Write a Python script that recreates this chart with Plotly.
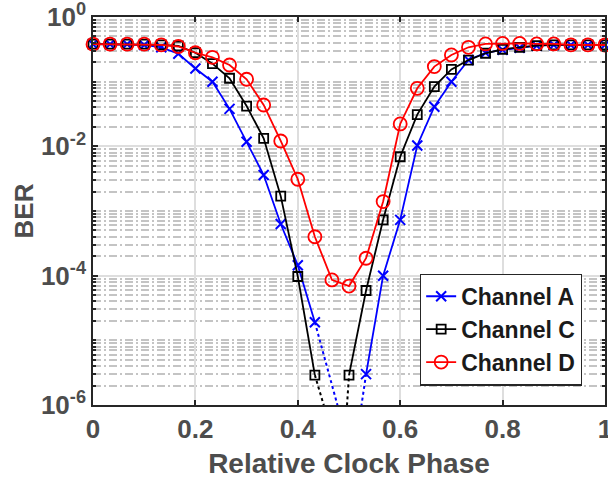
import plotly.graph_objects as go

# ---------------- data ----------------
phase = [i / 30 for i in range(31)]

ber_a = [0.38, 0.38, 0.38, 0.37, 0.34, 0.27, 0.16, 0.10, 0.038, 0.0118,
         0.0036, 6.3e-4, 1.45e-4, 1.9e-5, None, None, 3.0e-6, 1.0e-4, 7.3e-4, 0.0103,
         0.041, 0.10, 0.216, 0.28, 0.31, 0.335, 0.36, 0.37, 0.37, 0.37, 0.37]
ber_c = [0.38, 0.38, 0.38, 0.38, 0.37, 0.356, 0.28, 0.19, 0.113, 0.042,
         0.0133, 0.0017, 9.7e-5, 2.9e-6, None, 2.9e-6, 5.9e-5, 7.3e-4, 0.0069, 0.031,
         0.084, 0.155, 0.216, 0.275, 0.317, 0.34, 0.36, 0.37, 0.37, 0.37, 0.37]
ber_d = [0.38, 0.38, 0.38, 0.38, 0.37, 0.35, 0.28, 0.238, 0.181, 0.109,
         0.0436, 0.0121, 0.0031, 4.0e-4, 8.6e-5, 6.9e-5, 1.86e-4, 0.0014, 0.0222, 0.079,
         0.171, 0.259, 0.34, 0.383, 0.39, 0.39, 0.383, 0.383, 0.37, 0.37, 0.369]

# dotted extrapolations below the BER floor
ext_a_left_x = [13 / 30, 15 / 30]
ext_a_left_y = [1.9e-5, 2.2e-7]
ext_a_right_x = [15 / 30, 16 / 30]
ext_a_right_y = [4.9e-8, 3.0e-6]
ext_c_left_x = [13 / 30, 14 / 30]
ext_c_left_y = [2.9e-6, 3.7e-7]
ext_c_right_x = [14 / 30, 15 / 30]
ext_c_right_y = [3e-10, 2.9e-6]

names = ["Channel A", "Channel C", "Channel D"]
x_ticks = [0, 0.2, 0.4, 0.6, 0.8, 1]
x_tick_text = ["0", "0.2", "0.4", "0.6", "0.8", "1"]
y_ticks = [1e-6, 1e-4, 1e-2, 1]
y_tick_text = ["10<sup>-6</sup>", "10<sup>-4</sup>", "10<sup>-2</sup>", "10<sup>0</sup>"]

# ---------------- figure ----------------
FONT = "Liberation Sans, Arial, Helvetica, sans-serif"
BLUE, BLACK, RED = "#0000ff", "#000000", "#ff0000"

fig = go.Figure()

fig.add_trace(go.Scatter(x=phase, y=ber_a, name=names[0], mode="lines+markers",
                         line=dict(color=BLUE, width=1.8),
                         marker=dict(symbol="x-thin", size=10, color=BLUE,
                                     line=dict(color=BLUE, width=2)),
                         cliponaxis=False))
fig.add_trace(go.Scatter(x=phase, y=ber_c, name=names[1], mode="lines+markers",
                         line=dict(color=BLACK, width=1.8),
                         marker=dict(symbol="square-open", size=9, color=BLACK,
                                     line=dict(color=BLACK, width=1.8)),
                         cliponaxis=False))
fig.add_trace(go.Scatter(x=phase, y=ber_d, name=names[2], mode="lines+markers",
                         line=dict(color=RED, width=1.8),
                         marker=dict(symbol="circle-open", size=13, color=RED,
                                     line=dict(color=RED, width=1.8)),
                         cliponaxis=False))

for ex, ey, col in [(ext_a_left_x, ext_a_left_y, BLUE), (ext_a_right_x, ext_a_right_y, BLUE),
                    (ext_c_left_x, ext_c_left_y, BLACK), (ext_c_right_x, ext_c_right_y, BLACK)]:
    fig.add_trace(go.Scatter(x=ex, y=ey, mode="lines", showlegend=False,
                             line=dict(color=col, width=2, dash="dot"), hoverinfo="skip"))

minor_vals = []
for e in range(-6, 0):
    for m in range(1, 10):
        v = m * 10 ** e
        if m == 1 and e % 2 == 0:
            continue
        minor_vals.append(v)

fig.update_layout(
    width=608, height=479,
    margin=dict(l=93, r=3, t=17, b=74),
    paper_bgcolor="white", plot_bgcolor="white",
    font=dict(family=FONT, color="#4d4d4d"),
    showlegend=True,
    legend=dict(x=0.955, y=0.05, xanchor="right", yanchor="bottom",
                bgcolor="white", bordercolor="#262626", borderwidth=1.2,
                font=dict(family=FONT, size=23, color="#1a1a1a", weight="bold"),
                itemwidth=30, tracegroupgap=0),
    xaxis=dict(range=[0, 1], tickvals=x_ticks, ticktext=x_tick_text,
               automargin=False, ticklabeloverflow="allow",
               ticks="inside", ticklen=5, tickwidth=1.5, tickcolor="#262626",
               showline=True, linecolor="#262626", linewidth=1.6, mirror="ticks",
               showgrid=True, gridcolor="#dedede", gridwidth=2,
               zeroline=False,
               tickfont=dict(family=FONT, size=26, color="#4d4d4d", weight="bold"),
               title=dict(text="Relative Clock Phase", standoff=12,
                          font=dict(family=FONT, size=28, color="#4d4d4d", weight="bold"))),
    yaxis=dict(type="log", range=[-6, 0], tickvals=y_ticks, ticktext=y_tick_text,
               automargin=False, ticklabeloverflow="allow",
               ticks="inside", ticklen=5, tickwidth=1.5, tickcolor="#262626",
               showline=True, linecolor="#262626", linewidth=1.6, mirror="ticks",
               showgrid=True, gridcolor="#dedede", gridwidth=2,
               zeroline=False,
               minor=dict(tickvals=minor_vals, ticks="inside", ticklen=3,
                          tickcolor="#262626", showgrid=True, gridcolor="#c4c4c4",
                          gridwidth=1.5, griddash="8px,3px,2px,3px"),
               tickfont=dict(family=FONT, size=26, color="#4d4d4d", weight="bold"),
               title=dict(text="BER", standoff=0,
                          font=dict(family=FONT, size=26, color="#4d4d4d", weight="bold"))),
)

fig.write_html("out.html",
               config={"displayModeBar": False},
               post_script="document.body.style.margin='0';document.body.style.overflow='hidden';")
